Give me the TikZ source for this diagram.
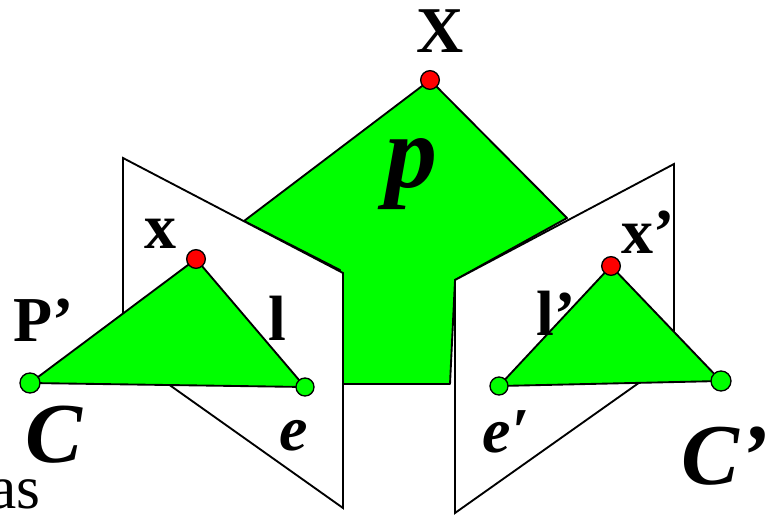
\documentclass[tikz,border=0pt]{standalone}
\usepackage{fontspec}
\setmainfont{Liberation Serif}
\usepackage{xcolor}
\definecolor{planegreen}{HTML}{00FF00}
\definecolor{pointred}{HTML}{FF0000}
\tikzset{
  plane/.style={draw=black,fill=white,line width=1.4pt,line join=miter},
  patch/.style={draw=black,fill=planegreen,line width=1.4pt,line join=round},
  greendot/.style={circle,draw=black,fill=planegreen,line width=1pt,inner sep=0pt,minimum size=#1},
  reddot/.style={circle,draw=black,fill=pointred,line width=1pt,inner sep=0pt,minimum size=#1},
  boldlabel/.style={inner sep=0pt,font=\bfseries\fontsize{#1}{#1}\selectfont},
  slantlabel/.style={inner sep=0pt,font=\bfseries\itshape\fontsize{#1}{#1}\selectfont}
}
\begin{document}
\begin{tikzpicture}[x=0.75pt,y=-0.75pt]
  \useasboundingbox (0,0) rectangle (777,517);
  % Corners of the epipolar patches
  \coordinate (apex) at (430,80);
  \coordinate (leftC) at (30,383);
  \coordinate (leftx) at (196,259);
  \coordinate (lefte) at (305,387);
  \coordinate (righte) at (499,386);
  \coordinate (rightx) at (611,266);
  \coordinate (rightC) at (721,381);
  % Big patch behind the image planes
  \draw[patch] (apex) -- (567,218) -- (455,280) -- (450,384) -- (340,384) -- (340,270) -- (244,221) -- cycle;
  % Image planes
  \draw[plane] (123,158) -- (343,273) -- (343,508) -- (123,352) -- cycle;
  \draw[plane] (455,280) -- (674,164) -- (674,358) -- (455,513) -- cycle;
  % Patches in front of the planes
  \draw[patch] (leftC) -- (leftx) -- (lefte) -- cycle;
  \draw[patch] (righte) -- (rightx) -- (rightC) -- cycle;
  % Points
  \node[reddot=14pt] (ptX) at (apex) {};
  \node[reddot=14pt] (ptx) at (leftx) {};
  \node[reddot=14pt] (ptxp) at (rightx) {};
  \node[greendot=15pt] (ptC) at (leftC) {};
  \node[greendot=13.5pt] (pte) at (lefte) {};
  \node[greendot=13.5pt] (ptep) at (righte) {};
  \node[greendot=15pt] (ptCp) at (rightC) {};
  % Labels
  \node[boldlabel=49pt] (labX) at (440,31) {X};
  \node[slantlabel=78pt] (labp) at (411,174) {p};
  \node[boldlabel=48pt] (labx) at (160,234) {x};
  \node[boldlabel=48pt] (labP) at (44,320) {P’};
  \node[boldlabel=48pt] (labl) at (277,318) {l};
  \node[slantlabel=64pt] (labC) at (54,435) {C};
  \node[slantlabel=48pt] (labe) at (294,436) {e};
  \node[slantlabel=48pt] (labep) at (506,432) {e′};
  \node[boldlabel=48pt] (lablp) at (556,313) {l’};
  \node[boldlabel=48pt] (labxp) at (648,232) {x’};
  \node[slantlabel=65pt] (labCp) at (725,456) {C’};
  \node[inner sep=0pt,font=\fontsize{46pt}{46pt}\selectfont] (labas) at (15,494) {as};
\end{tikzpicture}
\end{document}
